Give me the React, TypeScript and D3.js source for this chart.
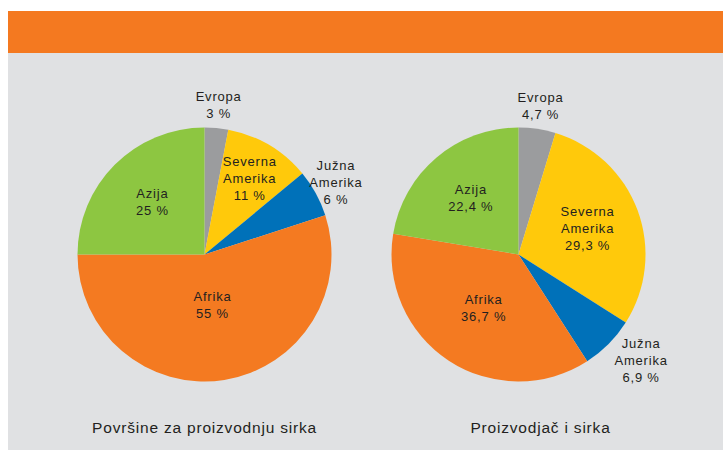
import React from "react";
import * as d3 from "d3";

const regions = ["Evropa", "Severna Amerika", "Južna Amerika", "Afrika", "Azija"];
const areaValues = [3, 11, 6, 55, 25];
const areaLabels = ["3 %", "11 %", "6 %", "55 %", "25 %"];
const producerValues = [4.7, 29.3, 6.9, 36.7, 22.4];
const producerLabels = ["4,7 %", "29,3 %", "6,9 %", "36,7 %", "22,4 %"];
const chartTitles = ["Površine za proizvodnju sirka", "Proizvodjač i sirka"];
const colors = ["#9b9c9e", "#ffc90b", "#0071b9", "#f47a21", "#8dc641"];

const W = 723;
const H = 452;
const R = 127;

function Pie({ cx, cy, values, pcts, title, titleDx }: { cx: number; cy: number; values: number[]; pcts: string[]; title: string; titleDx: number }) {
  const pie = d3.pie<number>().sort(null).value((d) => d);
  const arcs = pie(values);
  const arc = d3.arc<d3.PieArcDatum<number>>().innerRadius(0).outerRadius(R);
  const total = d3.sum(values);
  return (
    <g transform={`translate(${cx},${cy})`}>
      {arcs.map((a, i) => (
        <path key={i} d={arc(a) || ""} fill={colors[i]} />
      ))}
      {arcs.map((a, i) => {
        const share = a.data / total;
        const outside = share < 0.08;
        const lower = a.startAngle > Math.PI / 2;
        const rr = outside
          ? lower ? 162 : 150
          : share > 0.5 ? R * 0.4 : share < 0.15 ? R * 0.7 : share > 0.3 ? R * 0.5 : R * 0.58;
        const mid = (a.startAngle + a.endAngle) / 2 - (outside && lower ? 0.07 : 0);
        const x = rr * Math.sin(mid);
        const y = -rr * Math.cos(mid);
        const words = regions[i].split(" ");
        const lines = [...words, pcts[i]];
        const lh = 17;
        const y0 = y - ((lines.length - 1) * lh) / 2;
        return (
          <text key={"t" + i} x={x} y={y0} textAnchor="middle" fontSize={13} letterSpacing={0.8} fill="#231f20" fontFamily="Liberation Sans, Arial, sans-serif">
            {lines.map((l, j) => (
              <tspan key={j} x={x} y={y0 + j * lh} dy="0.35em">
                {l}
              </tspan>
            ))}
          </text>
        );
      })}
      <text x={titleDx} y={178} textAnchor="middle" fontSize={15.5} letterSpacing={0.8} fill="#231f20" fontFamily="Liberation Sans, Arial, sans-serif">
        {title}
      </text>
    </g>
  );
}

export default function App() {
  return (
    <svg width={W} height={H} style={{ position: "absolute", left: 0, top: 0 }}>
      <rect x={0} y={0} width={W} height={H} fill="#ffffff" />
      <rect x={8} y={53} width={W - 8} height={397} fill="#e0e1e3" />
      <rect x={8} y={11} width={W - 8} height={42} fill="#f47920" />
      <Pie cx={204.5} cy={254.5} values={areaValues} pcts={areaLabels} title={chartTitles[0]} titleDx={0} />
      <Pie cx={518.5} cy={254.5} values={producerValues} pcts={producerLabels} title={chartTitles[1]} titleDx={22} />
    </svg>
  );
}
